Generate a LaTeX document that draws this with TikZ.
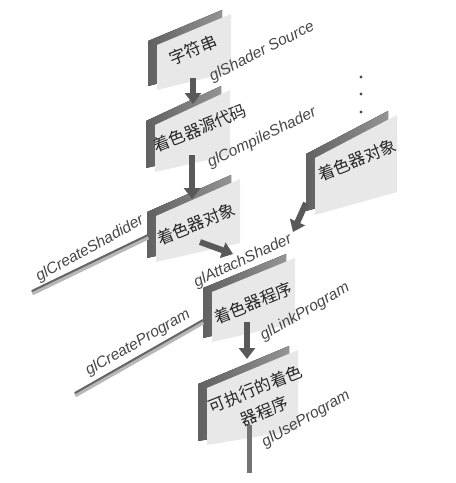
\documentclass[tikz,border=0pt]{standalone}
\usepackage{fontspec}
\setmainfont{Liberation Sans}
\newfontfamily\cjk{Noto Sans CJK SC}
\usetikzlibrary{arrows.meta}

\begin{document}
\begin{tikzpicture}[x=1pt,y=-1pt,
  face/.style={fill=black!9},
  back/.style={left color=black!62,right color=black!42},
  flow/.style={draw=black!65,line width=6pt,-{Triangle[width=16pt,length=11pt]}},
  slab/.style={draw=black!28,line width=5pt},
  slabtop/.style={draw=black!60,line width=2pt},
  word/.style={font=\cjk\fontsize{16.5}{24}\selectfont,text=black!85,rotate=22},
  call/.style={font=\itshape\fontsize{15.5}{18}\selectfont,text=black!72}]
\useasboundingbox (0,0) rectangle (456,483);
% cards: left x / top left y / right x / top right y / bottom right y / bottom left y
\foreach \xl/\yt/\xr/\yr/\ybr/\yb in {157/45/231/14/72/90, 155/125/230/90/155/172,
   156/216/240/179/243/262, 315/158/397/115/192/215,
   212/292/295/258/323/342, 207/388/298/350/430/445}
{
  \fill[back] (\xl-9,\yt-4) -- (\xr-9,\yr-4) -- (\xr-9,\ybr-4) -- (\xl-9,\yb-4) -- cycle;
  \fill[face] (\xl,\yt) -- (\xr,\yr) -- (\xr,\ybr) -- (\xl,\yb) -- cycle;
}
\node[word] (str) at (193,50) {字符串};
\node[word] (src) at (200,128) {着色器源代码};
\node[word] (obj) at (196,224) {着色器对象};
\node[word] (objb) at (357,160) {着色器对象};
\node[word] (prog) at (253,303) {着色器程序};
\node[word,align=center] (exe) at (260,400) {可执行的着色\\器程序};
% calls
\node[call,rotate=27] (shsrc) at (262,52) {glShader Source};
\node[call,rotate=26] (comp) at (262,138) {glCompileShader};
\node[call,rotate=29] (crsh) at (90,249) {glCreateShadider};
\node[call,rotate=25] (att) at (243,261) {glAttachShader};
\node[call,rotate=30] (crpr) at (138,343) {glCreateProgram};
\node[call,rotate=30] (link) at (305,312) {glLinkProgram};
\node[call,rotate=30] (use) at (306,419) {glUseProgram};
% ends of the arrows and bars
\coordinate (strout) at (193,78);   \coordinate (srcin) at (193,104);
\coordinate (srcout) at (192,155);  \coordinate (objin) at (192,199);
\coordinate (objout) at (200,242);  \coordinate (progin) at (233,254);
\coordinate (objbout) at (306,203); \coordinate (progib) at (293,232);
\coordinate (progout) at (247,322); \coordinate (exein) at (247,359);
\coordinate (exeout) at (249,425);  \coordinate (useend) at (249,473);
\coordinate (crshend) at (32,293);  \coordinate (objleft) at (148,237);
\coordinate (crprend) at (75,395);  \coordinate (progleft) at (203,322);
\draw[slab] (crshend) -- (objleft);
\draw[slabtop] ([yshift=2pt]crshend) -- ([yshift=2pt]objleft);
\draw[slab] (crprend) -- (progleft);
\draw[slabtop] ([yshift=2pt]crprend) -- ([yshift=2pt]progleft);
\draw[flow] (strout) -- (srcin);
\draw[flow] (srcout) -- (objin);
\draw[flow] (objout) -- (progin);
\draw[flow] (objbout) -- (progib);
\draw[flow] (progout) -- (exein);
\draw[draw=black!55,line width=5pt] (exeout) -- (useend);
\foreach \y in {77,94,112}
  \fill[black!70] (361,\y) circle (1.6pt);
\end{tikzpicture}
\end{document}
